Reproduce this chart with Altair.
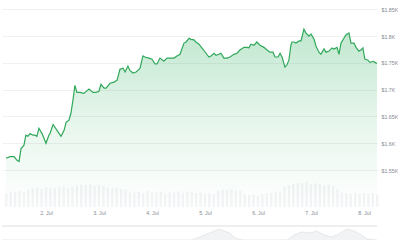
import altair as alt
import pandas as pd

# Price series: hours after 1 Jul 00:00, price in USD
hours = [5.9, 7.7, 9.5, 10.9, 11.8, 12.7, 14.0, 14.9, 15.8, 16.8, 18.1, 19.0, 19.9, 20.8, 22.2,
         24.0, 25.4, 25.8, 27.2, 29.0, 30.8, 32.2, 33.1, 34.4, 35.3, 36.2, 37.1, 38.0, 39.4,
         41.2, 41.7, 43.5, 45.3, 46.6, 48.0, 48.9, 50.3, 51.2, 53.0, 54.8, 56.2, 57.5, 58.9,
         59.8, 61.1, 62.0, 63.4, 64.8, 66.1, 66.6, 67.9, 68.8, 70.6, 72.0, 73.4, 74.3, 75.6,
         77.4, 78.8, 80.2, 82.0, 83.3, 84.7, 86.5, 87.4, 88.8, 89.7, 91.0, 91.9, 93.3, 94.6,
         96.5, 97.8, 98.7, 100.1, 101.0, 102.3, 103.2, 104.6, 106.0, 107.3, 109.1, 110.5,
         111.8, 113.7, 115.0, 115.9, 116.8, 118.2, 119.5, 120.9, 122.7, 124.1, 125.4, 126.8,
         127.7, 129.1, 130.0, 130.9, 132.2, 133.1, 134.0, 134.9, 135.4, 136.3, 137.2, 138.6,
         139.5, 140.8, 141.7, 143.1, 144.0, 145.4, 146.3, 147.6, 148.5, 149.9, 150.8, 152.2,
         153.5, 154.4, 155.8, 156.7, 157.6, 158.9, 159.8, 161.2, 162.1, 163.5, 164.4, 165.7,
         166.6, 167.5, 168.4, 169.8, 170.7, 172.1, 173.0, 173.9]
prices = [1572, 1575, 1575, 1568, 1566, 1590, 1596, 1615, 1613, 1618, 1615, 1615, 1613, 1628, 1618,
          1600, 1616, 1618, 1635, 1624, 1613, 1624, 1639, 1643, 1656, 1680, 1708, 1695, 1695,
          1693, 1695, 1701, 1695, 1695, 1697, 1710, 1703, 1703, 1712, 1714, 1718, 1738, 1740,
          1733, 1744, 1736, 1731, 1733, 1738, 1740, 1763, 1761, 1759, 1757, 1748, 1748, 1759,
          1753, 1759, 1759, 1759, 1763, 1766, 1787, 1789, 1796, 1794, 1793, 1789, 1785, 1778,
          1768, 1761, 1763, 1768, 1764, 1766, 1768, 1759, 1759, 1761, 1766, 1768,
          1774, 1779, 1779, 1778, 1785, 1783, 1789, 1783, 1779, 1774, 1770, 1770,
          1761, 1761, 1768, 1761, 1742, 1746, 1755, 1783, 1789, 1789, 1787, 1791,
          1791, 1813, 1806, 1800, 1804, 1794, 1781, 1770, 1766, 1776, 1770, 1772,
          1778, 1776, 1779, 1766, 1787, 1796, 1802, 1806, 1787, 1787, 1779, 1772,
          1774, 1778, 1757, 1755, 1751, 1753, 1751, 1749]

# Volume bars (2-hourly), relative units
vol_start, vol_step = 6, 2
volumes = [55, 62, 58, 64, 60,
           70, 74, 78, 72, 80, 76, 74, 79, 82, 75, 80,
           86, 90, 88, 92, 85, 88, 84,
           78, 74, 76, 72, 70,
           62, 58, 60, 56, 64, 60, 58, 62, 55, 60, 58, 63, 57, 60, 62, 56, 58,
           54, 56, 52, 66, 70, 68, 72, 66, 64, 52,
           48, 50, 46, 52, 55, 58, 60, 62,
           80, 88, 92, 96, 94, 98, 90, 95, 92, 86, 90, 84, 70,
           58, 55, 54, 57, 52, 56, 54, 55, 50]
vol_hours = [vol_start + vol_step * i for i in range(len(volumes))]

# Navigator (overview) series
nav_hours = [4.1, 90.0, 93.7, 96.9, 99.2, 102.3, 104.6, 107.3, 109.6, 112.8, 133.1, 136.3,
             139.9, 143.5, 146.7, 149.9, 153.5, 156.7, 160.3, 163.5, 166.2, 169.4, 173.9]
nav_levels = [0, 0, 3, 6, 8, 11, 9, 7, 2, 0, 0, 5, 8, 7, 9, 5, 3, 6, 11, 9, 6, 1, 0]

y_ticks = [1550, 1600, 1650, 1700, 1750, 1800, 1850]

base = pd.Timestamp("2024-07-01")
price_df = pd.DataFrame({"t": base + pd.to_timedelta(hours, unit="h"), "p": prices})
vol_df = pd.DataFrame({"t": base + pd.to_timedelta(vol_hours, unit="h"), "v": volumes})
nav_df = pd.DataFrame({"t": base + pd.to_timedelta(nav_hours, unit="h"), "n": nav_levels})

label_color = "#868b94"
font = "Liberation Sans"

x_scale = alt.Scale(
    domain=[alt.DateTime(year=2024, month=7, date=1, hours=4, minutes=5),
            alt.DateTime(year=2024, month=7, date=8, hours=5, minutes=54)],
    padding=0, nice=False,
)
x_enc = alt.X(
    "t:T",
    scale=x_scale,
    axis=alt.Axis(format="%-d. %b", tickCount={"interval": "day", "step": 1}, grid=False,
                  domain=False, ticks=False, labelFontSize=5.3, labelColor=label_color,
                  labelFont=font, offset=-32, labelPadding=2, labelFlush=False,
                  labelOverlap=False, title=None),
)

vol_y = alt.Y("v:Q", scale=alt.Scale(domain=[-132, 828], nice=False, zero=False), axis=None)
vol = alt.Chart(vol_df).mark_bar(width=2.4, color="#f3f4f6").encode(
    x=x_enc, y=vol_y, y2=alt.datum(0)
)

nav_y = alt.Y("n:Q", scale=alt.Scale(domain=[0, 240], nice=False, zero=False), axis=None)
nav_area = alt.Chart(nav_df).mark_area(color="#eceef0", line={"color": "#dfe2e6", "strokeWidth": 0.8}).encode(
    x="t:T", y=nav_y, y2=alt.datum(0)
)
nav_rule = alt.Chart(nav_df).mark_rule(color="#eeeeee", strokeWidth=1).encode(y=alt.datum(14))
nav_layer = alt.layer(nav_area, nav_rule)

price_scale = alt.Scale(domain=[1419.4, 1867.4], nice=False, zero=False)
price_axis = alt.Axis(orient="right", values=y_ticks,
                      labelExpr="'$' + format(datum.value / 1000, '.2~f') + 'K'",
                      grid=True, gridColor="#f0f0f0", gridWidth=1, domain=False, ticks=False,
                      labelPadding=4, labelFontSize=5.3, labelColor=label_color, labelFont=font,
                      labelFlush=False, labelOverlap=False, title=None)

gradient = alt.Gradient(
    gradient="linear",
    stops=[alt.GradientStop(color="rgba(48,176,96,0.30)", offset=0),
           alt.GradientStop(color="rgba(48,176,96,0.12)", offset=0.5),
           alt.GradientStop(color="rgba(48,176,96,0.0)", offset=1)],
    x1=1, x2=1, y1=0, y2=1,
)

area = alt.Chart(price_df).mark_area(color=gradient).encode(
    x="t:T", y=alt.Y("p:Q", scale=price_scale, axis=price_axis), y2=alt.datum(1480)
)
line = alt.Chart(price_df).mark_line(color="#2fa85a", strokeWidth=1.2).encode(
    x="t:T", y=alt.Y("p:Q", scale=price_scale, axis=price_axis)
)
price_layer = alt.layer(area, line)

chart = alt.layer(vol, nav_layer, price_layer).resolve_scale(y="independent").properties(
    width=375, height=240, padding=0, background="white"
).configure_view(stroke=None)

chart.save("out.html", embed_options={"renderer": "svg", "actions": False})
